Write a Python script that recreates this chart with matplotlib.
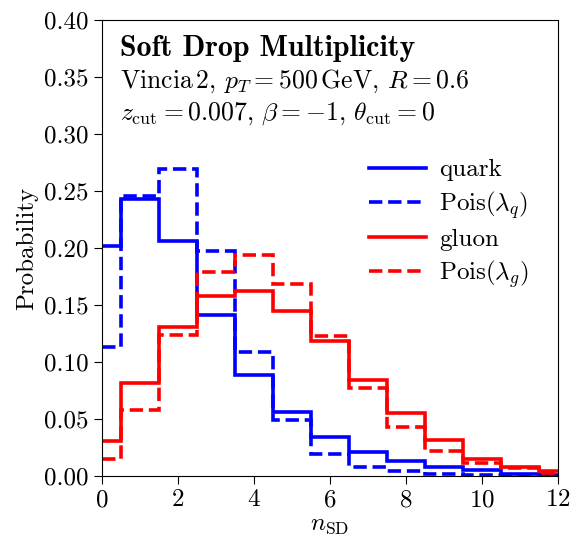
import numpy as np
import matplotlib
matplotlib.use('Agg')
from matplotlib import pyplot as plt

plt.rcParams['font.family'] = 'serif'
plt.rcParams['font.serif'] = ['cmr10', 'DejaVu Serif']
plt.rcParams['mathtext.fontset'] = 'cm'
plt.rcParams['axes.unicode_minus'] = False
plt.rcParams['axes.formatter.use_mathtext'] = True

# multiplicity bins n = 0..12
n_sd = np.arange(0, 13)
quark = [0.202, 0.243, 0.206, 0.141, 0.089, 0.056, 0.034, 0.021, 0.013, 0.008, 0.005, 0.002, 0.001]
pois_q = [0.113, 0.246, 0.269, 0.197, 0.109, 0.049, 0.019, 0.008, 0.004, 0.002, 0.001, 0.0005, 0.0002]
gluon = [0.031, 0.082, 0.131, 0.158, 0.162, 0.145, 0.118, 0.084, 0.055, 0.032, 0.015, 0.008, 0.004]
pois_g = [0.015, 0.058, 0.124, 0.179, 0.194, 0.168, 0.123, 0.077, 0.043, 0.022, 0.011, 0.007, 0.003]

edges = np.append(n_sd - 0.5, n_sd[-1] + 0.5)

fig = plt.figure(figsize=(5.71, 5.36), dpi=100)
ax = fig.add_axes([102/571, 60/536, 456/571, 456/536])

lw = 2.6
ax.stairs(quark, edges, baseline=None, color='blue', lw=lw, label='quark')
ax.stairs(pois_q, edges, baseline=None, color='blue', lw=lw, ls='--', label=r'Pois$(\lambda_q)$')
ax.stairs(gluon, edges, baseline=None, color='red', lw=lw, label='gluon')
ax.stairs(pois_g, edges, baseline=None, color='red', lw=lw, ls='--', label=r'Pois$(\lambda_g)$')

ax.set_xlim(0, 12)
ax.set_ylim(0, 0.4)
ax.set_xticks(np.arange(0, 13, 2))
ax.set_yticks(np.arange(0, 0.41, 0.05))
ax.set_yticklabels(['%.2f' % v for v in np.arange(0, 0.41, 0.05)])
ax.tick_params(labelsize=18, length=6, direction='out')
ax.set_xlabel(r'$n_{\rm SD}$', fontsize=18, labelpad=2)
ax.set_ylabel('Probability', fontsize=18, labelpad=4)

ax.text(0.04, 0.937, 'Soft Drop Multiplicity', transform=ax.transAxes,
        fontsize=21.5, fontweight='bold', family='cmb10', va='center')
ax.text(0.04, 0.866, r'Vincia$\,$2, $p_T = 500\,{\rm GeV}$, $R = 0.6$', transform=ax.transAxes,
        fontsize=18.5, va='center')
ax.text(0.04, 0.795, r'$z_{\rm cut} = 0.007$, $\beta = -1$, $\theta_{\rm cut} = 0$', transform=ax.transAxes,
        fontsize=18.5, va='center')

ax.legend(loc='upper right', bbox_to_anchor=(0.985, 0.745), frameon=False, fontsize=18,
          handlelength=2.3, handletextpad=0.5, labelspacing=0.3)

fig.savefig('out.png', dpi=100)
